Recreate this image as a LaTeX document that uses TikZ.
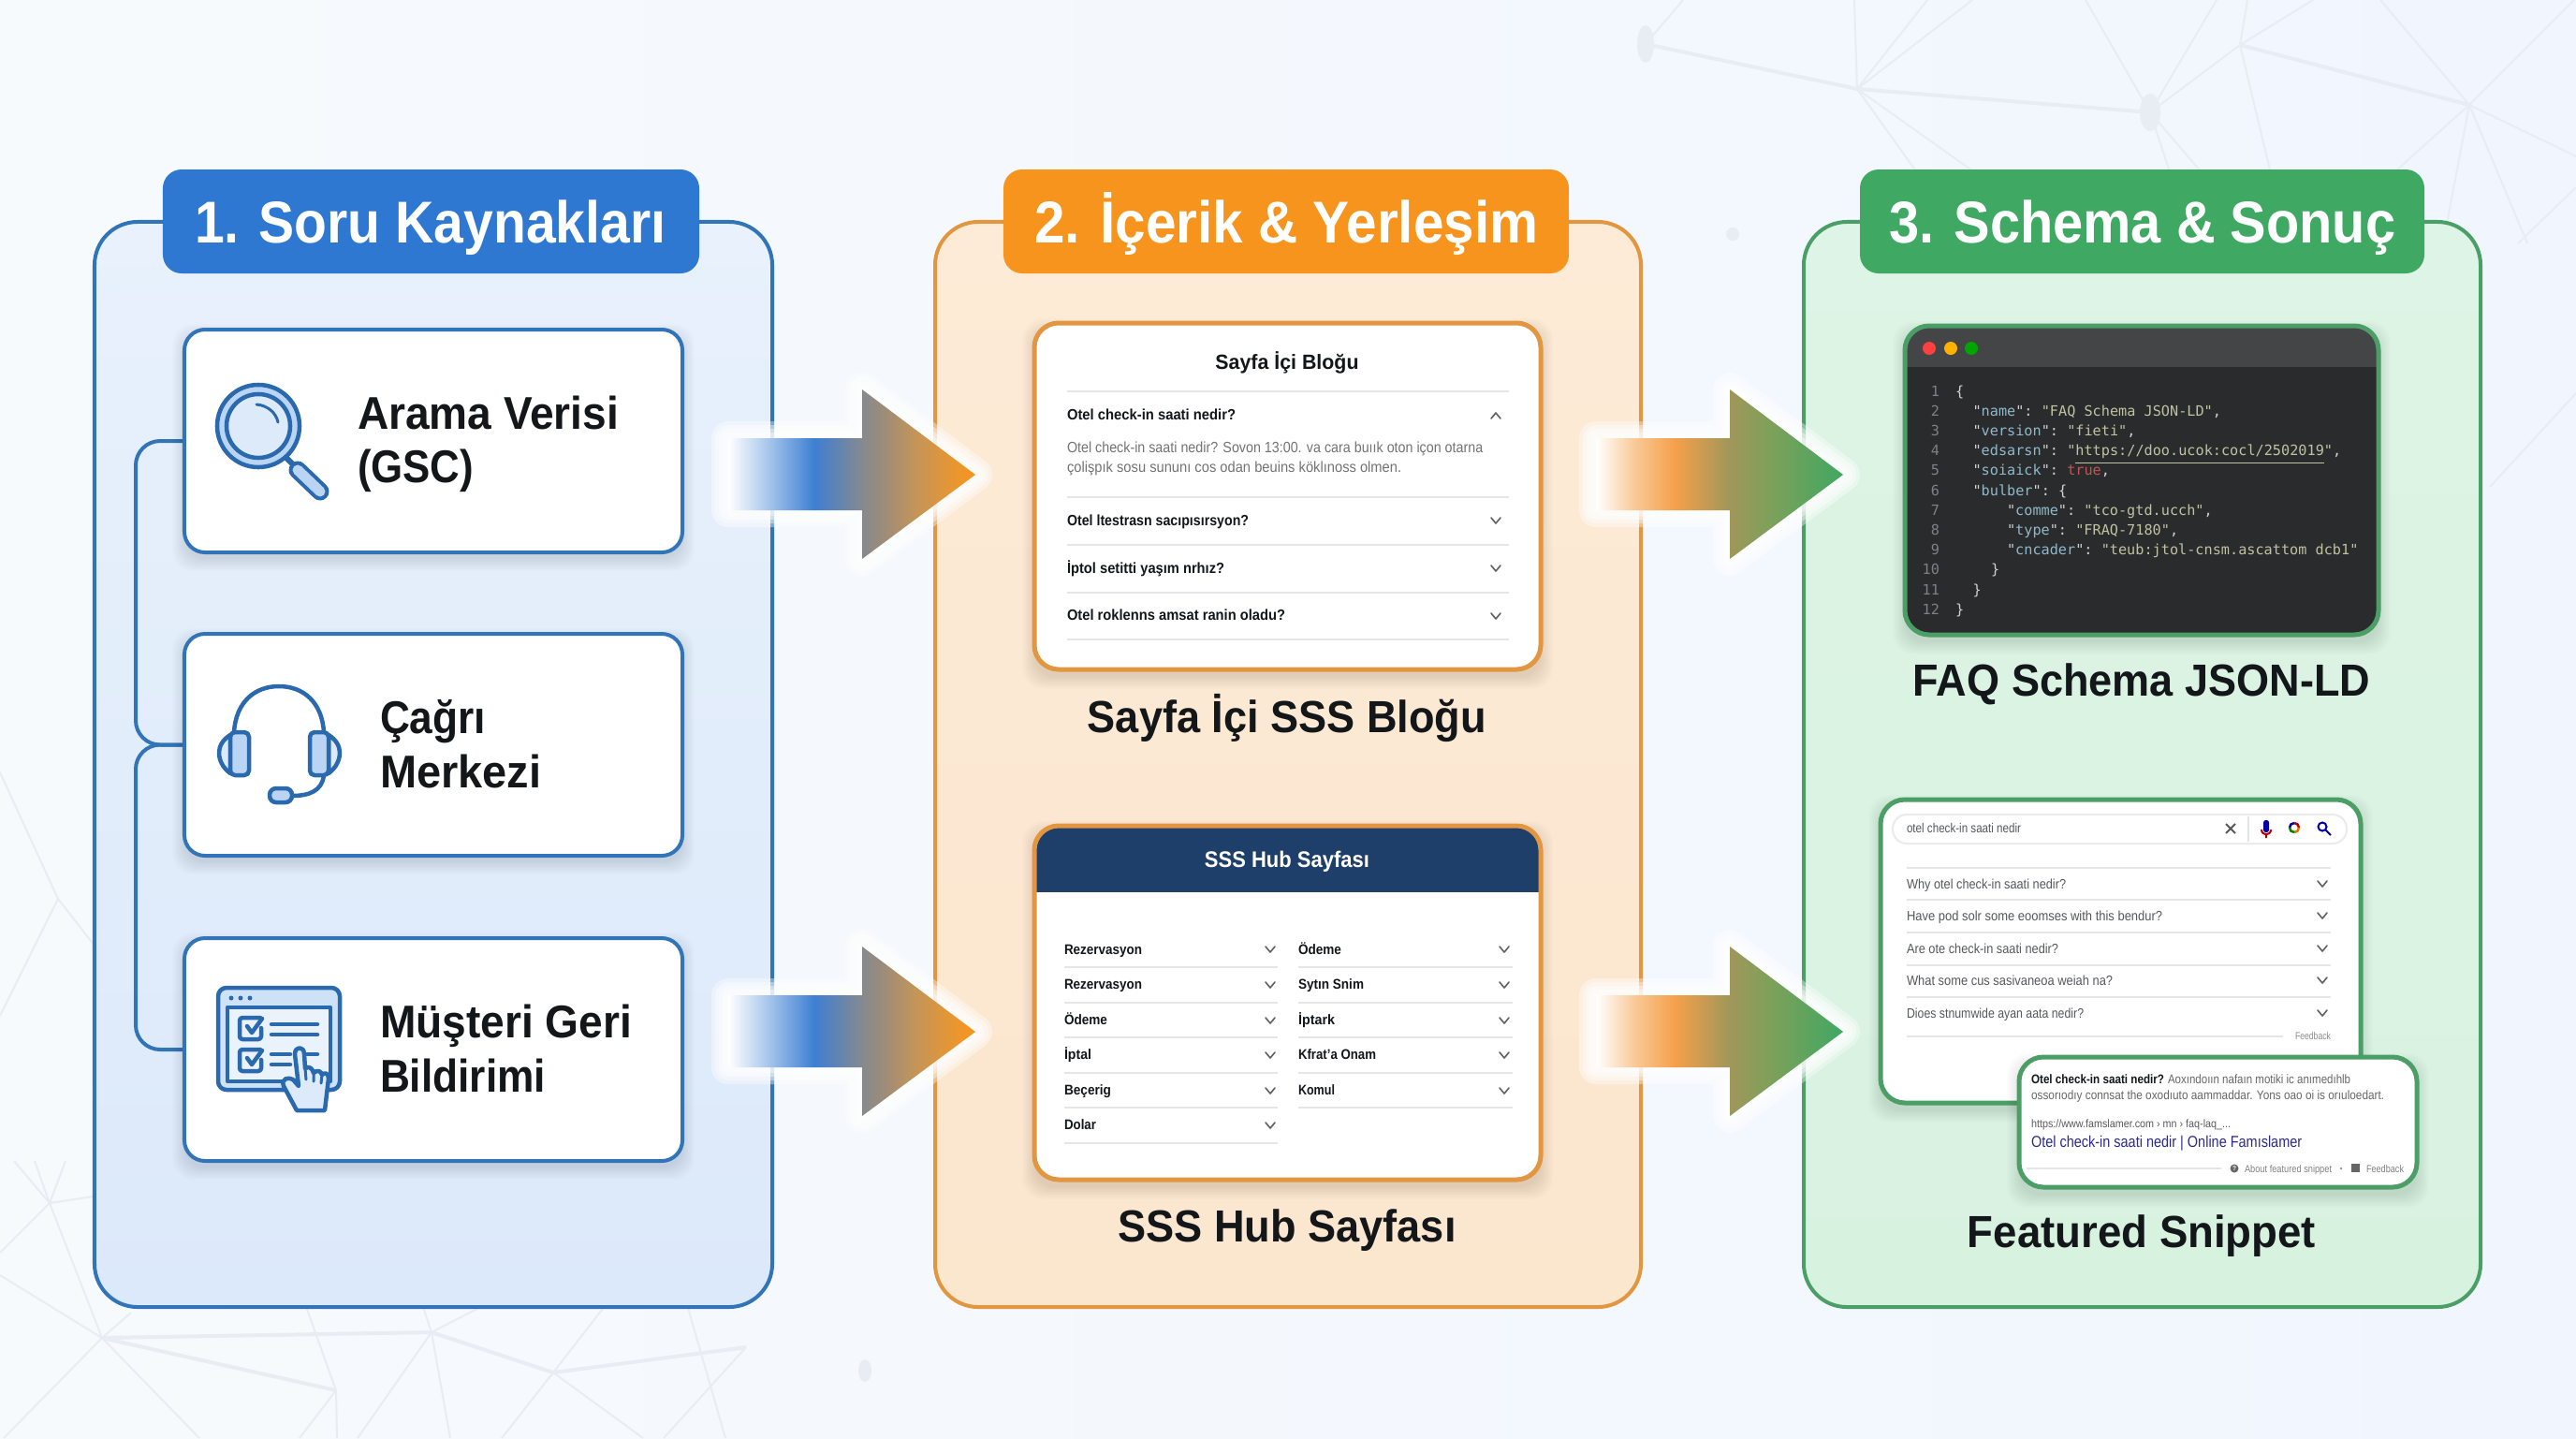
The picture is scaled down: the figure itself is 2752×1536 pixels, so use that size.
\documentclass[tikz,border=0pt]{standalone}
\usepackage{graphicx}
\usepackage{fontspec}
\setmainfont{Liberation Sans}
\setmonofont{DejaVu Sans Mono}
\definecolor{bgA}{HTML}{F7FAFD}
\definecolor{bgB}{HTML}{F1F6FE}
\definecolor{net}{HTML}{E8EDF4}
\definecolor{bluePanelT}{HTML}{E8F1FC}
\definecolor{bluePanelB}{HTML}{DCE9FA}
\definecolor{blueLine}{HTML}{3274B8}
\definecolor{blueTab}{HTML}{2F78D2}
\definecolor{orPanelT}{HTML}{FDEBD7}
\definecolor{orPanelB}{HTML}{FBE6CE}
\definecolor{orLine}{HTML}{E2963F}
\definecolor{orTab}{HTML}{F7941E}
\definecolor{grPanelT}{HTML}{DEF4E6}
\definecolor{grPanelB}{HTML}{D8F2E0}
\definecolor{grLine}{HTML}{4A9E66}
\definecolor{grTab}{HTML}{3FA862}
\definecolor{icoD}{HTML}{2A69AE}
\definecolor{icoM}{HTML}{B9D5F3}
\definecolor{icoL}{HTML}{DCEAFA}
\definecolor{ink}{HTML}{14171A}
\definecolor{rule}{HTML}{E4E6E8}
\definecolor{hub}{HTML}{1F3F6B}
\definecolor{codeBg}{HTML}{2A2B2C}
\definecolor{codeBar}{HTML}{444546}
\definecolor{cKey}{HTML}{8FB9CC}
\definecolor{cStr}{HTML}{C0C2A2}
\definecolor{cNum}{HTML}{7E8284}
\definecolor{cPun}{HTML}{D0D2D2}
\definecolor{cRed}{HTML}{C25555}
\definecolor{gTxt}{HTML}{55585C}
\definecolor{linkB}{HTML}{2B2A8C}
\definecolor{aB1}{HTML}{A8C6EC}
\definecolor{aB2}{HTML}{3E7FD2}
\definecolor{aB3}{HTML}{8A8A8A}
\definecolor{aB4}{HTML}{9E8C78}
\definecolor{aB5}{HTML}{C49558}
\definecolor{aB6}{HTML}{EF962A}
\definecolor{aG1}{HTML}{F9C894}
\definecolor{aG2}{HTML}{F5A04A}
\definecolor{aG3}{HTML}{A0975A}
\definecolor{aG4}{HTML}{7FA05A}

\pgfdeclarehorizontalshading{blueOrange}{100bp}{color(0bp)=(white); color(25bp)=(white); color(33bp)=(aB1); color(42.4bp)=(aB2); color(52.8bp)=(aB3); color(56.6bp)=(aB4); color(62.9bp)=(aB5); color(72bp)=(aB6); color(75bp)=(orTab); color(100bp)=(orTab)}
\pgfdeclarehorizontalshading{orangeGreen}{100bp}{color(0bp)=(white); color(25bp)=(white); color(33bp)=(aG1); color(41bp)=(aG2); color(52bp)=(aG3); color(60bp)=(aG4); color(75bp)=(grTab); color(100bp)=(grTab)}

\newcounter{tn}
\newsavebox{\mb}
\newcommand{\fsz}[1]{\pgfmathsetmacro{\fsv}{#1*0.284528}\fontsize{\fsv pt}{\fsv pt}\selectfont}
\newcommand{\fitw}[2]{\sbox{\mb}{#2}\pgfmathsetmacro{\rr}{#1*0.284528/\the\wd\mb}\scalebox{\rr}[1]{\usebox{\mb}}}
% \tx[colour]{font}{anchor}{x}{y}{size px}{width px}{text}
\newcommand{\tx}[8][ink]{\stepcounter{tn}\node[anchor=#3,inner sep=0pt,outer sep=0pt,text=#1] (t\arabic{tn}) at (#4,#5) {\fsz{#6}#2\fitw{#7}{#8}};}
% \nw natural width
\newcommand{\nw}[8][ink]{\stepcounter{tn}\node[anchor=#3,inner sep=0pt,outer sep=0pt,text=#1] (t\arabic{tn}) at (#4,#5) {\fsz{#6}#2#8};}
% box node
\newcommand{\bx}[6][]{\pgfmathsetmacro{\bw}{(#5-#3)*0.01}\pgfmathsetmacro{\bh}{(#6-#4)*0.01}\pgfmathsetmacro{\bcx}{(#5+#3)/2}\pgfmathsetmacro{\bcy}{(#6+#4)/2}\node[inner sep=0pt,outer sep=0pt,minimum width=\bw cm,minimum height=\bh cm,#1] (#2) at (\bcx,\bcy) {};}
% soft shadow
\newcommand{\shad}[6][.012]{\foreach \k in {0,...,8}{\fill[black,opacity=#1,rounded corners=0.22cm] ({#2-\k*1.6},{#3-\k*1.6+#6}) rectangle ({#4+\k*1.6},{#5+\k*1.6+#6});}}
\newcommand{\chevd}[2]{\draw[chevs] (#1,#2) ++(-5,-3) -- ++(5,6) -- ++(5,-6);}
\newcommand{\chevu}[2]{\draw[chevs] (#1,#2) ++(-5,3) -- ++(5,-6) -- ++(5,6);}
\newcommand{\rl}[3]{\draw[rul] (#1,#3) -- (#2,#3);}
\newcommand{\cdl}[3]{\pgfmathsetmacro{\cy}{423+21.2*(#1-1)}\nw[cNum]{\ttfamily}{base east}{2072}{\cy}{15.2}{0}{#1}\nw[cPun]{\ttfamily}{base west}{#2}{\cy}{15.2}{0}{#3}}
\newcommand{\ky}[1]{\textcolor{cKey}{#1}}
\newcommand{\st}[1]{\textcolor{cStr}{#1}}
\newcommand{\arrowpath}{(778,468) -- (921,468) -- (921,416) -- (1042,507) -- (921,597) -- (921,545) -- (778,545) -- cycle}
\newcommand{\gradarrow}[3]{\begin{scope}[shift={(#1,#2)}]
  \foreach \w in {0.36,0.28,0.20,0.12}{\draw[white,opacity=.38,line width=\w cm,line join=round] \arrowpath;}
  \path[shading=#3] \arrowpath;
\end{scope}}

\tikzset{
  panelB/.style={draw=blueLine,line width=0.04cm,rounded corners=0.46cm,top color=bluePanelT,bottom color=bluePanelB},
  panelO/.style={draw=orLine,line width=0.04cm,rounded corners=0.46cm,top color=orPanelT,bottom color=orPanelB},
  panelG/.style={draw=grLine,line width=0.04cm,rounded corners=0.46cm,top color=grPanelT,bottom color=grPanelB},
  tab/.style={rounded corners=0.2cm},
  cardB/.style={draw=blueLine,fill=white,line width=0.04cm,rounded corners=0.22cm},
  cardO/.style={draw=orLine,fill=white,line width=0.05cm,rounded corners=0.26cm},
  cardG/.style={draw=grLine,fill=white,line width=0.05cm,rounded corners=0.26cm},
  conn/.style={draw=blueLine,line width=0.04cm,rounded corners=0.26cm},
  ico/.style={draw=icoD,line width=0.045cm,line join=round,line cap=round},
  rul/.style={draw=rule,line width=0.025cm},
  chevs/.style={draw=black!62,line width=0.016cm,line cap=round,line join=round},
  netl/.style={draw=net,line width=0.02cm},
  netb/.style={draw=net,line width=0.04cm},
  dotn/.style={fill=net}
}
\begin{document}
\begin{tikzpicture}[x=0.01cm,y=-0.01cm]
\useasboundingbox (0,0) rectangle (2752,1536);
\shade[left color=bgA,right color=bgB] (0,0) rectangle (2752,1536);

% ---------- background network
\begin{scope}
\clip (0,0) rectangle (2752,1536);
\coordinate (A) at (1758,47); \coordinate (B) at (1984,95); \coordinate (C) at (2297,120);
\coordinate (D) at (2393,48); \coordinate (E) at (2638,112);
\draw[netb] (A)--(B)--(C) (D)--(E);
\draw[netl] (A)--(1798,0) (B)--(1981,0) (B)--(2059,0) (B)--(2107,0) (B)--(2052,190) (B)--(2118,190)
 (C)--(2228,0) (C)--(2368,0) (C)--(D) (D)--(2401,0) (D)--(2471,0) (D)--(2427,190)
 (C)--(2320,190) (C)--(2357,190) (E)--(2543,0) (E)--(2750,0) (E)--(2551,190) (E)--(2610,260)
 (E)--(2700,260) (E)--(2752,167) (2752,200)--(2690,260) (2752,420)--(2660,520);
\fill[dotn] (A) ellipse (0.09cm and 0.2cm); \fill[dotn] (C) ellipse (0.11cm and 0.2cm);
\fill[dotn] (1851,250) circle (0.07cm);
\coordinate (P) at (53,1285); \coordinate (Q) at (109,1429); \coordinate (R) at (461,1423);
\coordinate (S) at (359,1485); \coordinate (T) at (591,1466); \coordinate (U) at (797,1439);
\draw[netb] (Q)--(R)--(T)--(U) (Q)--(S);
\draw[netl] (P)--(99,1278) (P)--(15,1240) (P)--(37,1240) (P)--(70,1240) (P)--(Q) (P)--(0,1338)
 (Q)--(0,1362) (Q)--(140,1402) (Q)--(4,1536) (Q)--(213,1536) (S)--(325,1390) (S)--(320,1536)
 (S)--(360,1536) (R)--(450,1390) (R)--(525,1390) (R)--(382,1536) (R)--(481,1536)
 (T)--(650,1390) (T)--(536,1536) (T)--(687,1536) (U)--(709,1536) (733,1390)--(775,1536)
 (0,825)--(62,960)--(101,1010) (62,960)--(0,1085);
\fill[dotn] (924,1464) ellipse (0.07cm and 0.12cm);
\end{scope}

% ---------- panels
\bx[panelB]{p1}{101}{237}{825}{1396}
\bx[panelO]{p2}{999}{237}{1753}{1396}
\bx[panelG]{p3}{1927}{237}{2650}{1396}

% ---------- tabs
\bx[tab,fill=blueTab]{tb1}{174}{181}{747}{292}
\bx[tab,fill=orTab]{tb2}{1072}{181}{1676}{292}
\bx[tab,fill=grTab]{tb3}{1987}{181}{2590}{292}
\tx[white]{\bfseries}{base west}{208}{259}{63}{503}{1. Soru Kaynakları}
\tx[white]{\bfseries}{base west}{1105}{259}{63}{538}{2. İçerik \& Yerleşim}
\tx[white]{\bfseries}{base west}{2018}{259}{63}{541}{3. Schema \& Sonuç}

% ---------- connectors in panel 1
\coordinate (bus) at (145,0);
\bx[]{c1x}{197}{352}{729}{590}
\bx[]{c2x}{197}{677}{729}{914}
\bx[]{c3x}{197}{1002}{729}{1240}
\draw[conn] (c1x.west) -- (c1x.west -| bus) -- (c2x.west -| bus) -- (c2x.west);
\draw[conn] (c2x.west) -- (c2x.west -| bus) -- (c3x.west -| bus) -- (c3x.west);

% ---------- blue cards
\shad{197}{352}{729}{590}{7}
\bx[cardB]{c1}{197}{352}{729}{590}
\shad{197}{677}{729}{914}{7}
\bx[cardB]{c2}{197}{677}{729}{914}
\shad{197}{1002}{729}{1240}{7}
\bx[cardB]{c3}{197}{1002}{729}{1240}
\tx{\bfseries}{base west}{382}{458}{49}{279}{Arama Verisi}
\tx{\bfseries}{base west}{382}{515}{49}{124}{(GSC)}
\tx{\bfseries}{base west}{406}{783}{49}{113}{Çağrı}
\tx{\bfseries}{base west}{406}{841}{49}{172}{Merkezi}
\tx{\bfseries}{base west}{406}{1108}{49}{269}{Müşteri Geri}
\tx{\bfseries}{base west}{406}{1166}{49}{177}{Bildirimi}

% magnifier icon
\draw[icoD,line width=0.06cm] (304,487) -- (316,499);
\draw[icoD,line width=0.19cm,line cap=round] (318,502) -- (342,525);
\draw[icoM,line width=0.11cm,line cap=round] (318,502) -- (342,525);
\draw[ico,fill=icoM] (276,455) circle (0.44cm);
\draw[ico,fill=icoL] (276,455) circle (0.34cm);
\draw[ico,line width=0.03cm] (274,432) .. controls (286,433) and (295,441) .. (297,451);

% headset icon
\draw[ico] (250,782) .. controls (252,750) and (272,733) .. (298,733) .. controls (324,733) and (344,750) .. (346,782);
\draw[ico,fill=icoL] (246,785) .. controls (238,790) and (234,797) .. (234,804) .. controls (234,812) and (238,820) .. (246,826) -- cycle;
\draw[ico,fill=icoM,rounded corners=0.05cm] (246,782) rectangle (266,828);
\draw[ico,fill=icoL] (351,785) .. controls (359,790) and (363,797) .. (363,804) .. controls (363,812) and (359,820) .. (351,826) -- cycle;
\draw[ico,fill=icoM,rounded corners=0.05cm] (331,782) rectangle (351,828);
\draw[ico] (346,828) .. controls (344,845) and (330,850) .. (312,850);
\draw[ico,fill=icoM,rounded corners=0.07cm] (288,842) rectangle (312,857);

% checklist icon
\draw[ico,fill=icoM!70!white,rounded corners=0.09cm] (233,1055) rectangle (363,1164);
\draw[ico,fill=icoL!60!white] (243,1076) rectangle (353,1155);
\fill[icoD] (247,1066) circle (0.025cm) (257,1066) circle (0.025cm) (267,1066) circle (0.025cm);
\draw[ico,rounded corners=0.03cm] (278,1087) -- (256,1087) -- (256,1110) -- (279,1110) -- (279,1098);
\draw[ico,rounded corners=0.03cm] (278,1121) -- (256,1121) -- (256,1144) -- (279,1144) -- (279,1132);
\draw[ico] (264,1096) -- (269,1103) -- (280,1088);
\draw[ico] (264,1130) -- (269,1137) -- (280,1122);
\draw[ico] (290,1094) -- (339,1094) (290,1105) -- (339,1105) (290,1126) -- (310,1126) (328,1126) -- (339,1126) (290,1137) -- (310,1137);
\draw[ico,fill=icoL] (317,1186) -- (303,1160) .. controls (300,1152) and (308,1150) .. (313,1153) -- (319,1160) -- (315,1126) .. controls (315,1117) and (325,1117) .. (325,1126) -- (326,1141) .. controls (331,1138) and (334,1142) .. (335,1146) .. controls (339,1142) and (343,1144) .. (344,1148) .. controls (347,1145) and (351,1146) .. (351,1152) -- (347,1186) -- cycle;
\draw[ico,line width=0.03cm] (326,1141) -- (327,1153) (335,1146) -- (335,1155) (344,1148) -- (343,1157);

% ---------- orange cards
\shad{1105}{345}{1646}{715}{8}
\bx[cardO]{ca}{1105}{345}{1646}{715}
\tx{\bfseries}{base}{1375}{394}{22}{153}{Sayfa İçi Bloğu}
\rl{1140}{1612}{418}\rl{1140}{1612}{531}\rl{1140}{1612}{582}\rl{1140}{1612}{633}\rl{1140}{1612}{683}
\tx{\bfseries}{base west}{1140}{448}{16}{180}{Otel check-in saati nedir?}
\tx{\bfseries}{base west}{1140}{561}{16}{194}{Otel ltestrasn sacıpısırsyon?}
\tx{\bfseries}{base west}{1140}{612}{16}{168}{İptol setitti yaşım nrhız?}
\tx{\bfseries}{base west}{1140}{662}{16}{233}{Otel roklenns amsat ranin oladu?}
\tx[black!55]{}{base west}{1140}{483}{16}{444}{Otel check-in saati nedir? Sovon 13:00. va cara buıık oton içon otarna}
\tx[black!55]{}{base west}{1140}{504}{16}{357}{çolişpık sosu sununı cos odan beuins köklınoss olmen.}
\chevu{1598}{444}\chevd{1598}{556}\chevd{1598}{607}\chevd{1598}{658}
\tx{\bfseries}{base}{1375}{782}{48}{426}{Sayfa İçi SSS Bloğu}

\shad{1105}{882}{1646}{1260}{8}
\bx[fill=white,rounded corners=0.26cm]{cb}{1105}{882}{1646}{1260}
\begin{scope}
\clip[rounded corners=0.26cm] (1105,882) rectangle (1646,1260);
\fill[hub] (1105,882) rectangle (1646,953);
\end{scope}
\bx[cardO,fill=none]{cbb}{1105}{882}{1646}{1260}
\tx[white]{\bfseries}{base}{1375}{926}{24}{176}{SSS Hub Sayfası}
\foreach \yy in {1033,1071,1108,1146,1183,1221}{\rl{1137}{1365}{\yy}}
\foreach \yy in {1033,1071,1108,1146,1183}{\rl{1387}{1616}{\yy}}
\foreach \yy in {1014,1052,1090,1127,1165,1202}{\chevd{1357}{\yy}}
\foreach \yy in {1014,1052,1090,1127,1165}{\chevd{1607}{\yy}}
\tx{\bfseries}{base west}{1137}{1019}{15}{83}{Rezervasyon}
\tx{\bfseries}{base west}{1137}{1056}{15}{83}{Rezervasyon}
\tx{\bfseries}{base west}{1137}{1094}{15}{46}{Ödeme}
\tx{\bfseries}{base west}{1137}{1131}{15}{29}{İptal}
\tx{\bfseries}{base west}{1137}{1169}{15}{50}{Beçerig}
\tx{\bfseries}{base west}{1137}{1206}{15}{34}{Dolar}
\tx{\bfseries}{base west}{1387}{1019}{15}{46}{Ödeme}
\tx{\bfseries}{base west}{1387}{1056}{15}{70}{Sytın Snim}
\tx{\bfseries}{base west}{1387}{1094}{15}{39}{İptark}
\tx{\bfseries}{base west}{1387}{1131}{15}{83}{Kfrat'a Onam}
\tx{\bfseries}{base west}{1387}{1169}{15}{39}{Komul}
\tx{\bfseries}{base}{1375}{1326}{48}{361}{SSS Hub Sayfası}

% ---------- code window
\shad{2035}{348}{2541}{678}{8}
\bx[fill=codeBg,rounded corners=0.26cm]{win}{2035}{348}{2541}{678}
\begin{scope}
\clip[rounded corners=0.26cm] (2035,348) rectangle (2541,678);
\fill[codeBar] (2035,348) rectangle (2541,392);
\end{scope}
\bx[cardG,fill=none]{winb}{2035}{348}{2541}{678}
\fill[red!75!white] (2061,372) circle (0.07cm);
\fill[orange!60!yellow] (2084,372) circle (0.07cm);
\fill[green!65!black] (2106,372) circle (0.07cm);
\cdl{1}{2089}{\{}
\cdl{2}{2107.5}{"\ky{name}": \st{"FAQ Schema JSON-LD"},}
\cdl{3}{2107.5}{"\ky{version}": \st{"fieti"},}
\cdl{4}{2107.5}{"\ky{edsarsn}": \st{"\underline{https://doo.ucok:cocl/2502019}"},}
\cdl{5}{2107.5}{"\ky{soiaick}": \textcolor{cRed}{true},}
\cdl{6}{2107.5}{"\ky{bulber}": \{}
\cdl{7}{2144}{"\ky{comme}": \st{"tco-gtd.ucch"},}
\cdl{8}{2144}{"\ky{type}": \st{"FRAQ-7180"},}
\cdl{9}{2144}{"\ky{cncader}": \st{"teub:jtol-cnsm.ascattom dcb1"}}
\cdl{10}{2127}{\}}
\cdl{11}{2107.5}{\}}
\cdl{12}{2089}{\}}
\tx{\bfseries}{base}{2288}{743}{48}{488}{FAQ Schema JSON-LD}

% ---------- search card
\shad{2009}{854}{2522}{1178}{8}
\bx[cardG]{sc}{2009}{854}{2522}{1178}
\bx[draw=black!8,line width=0.02cm,rounded corners=0.15cm,fill=white]{sbar}{2022}{870}{2507}{901}
\tx[gTxt]{}{base west}{2037}{889}{14}{122}{otel check-in saati nedir}
\draw[black!65,line width=0.02cm] (2378,880) -- (2388,890) (2388,880) -- (2378,890);
\draw[black!10,line width=0.02cm] (2402,872) -- (2402,899);
\fill[blue!65!black,rounded corners=0.025cm] (2418,876) rectangle (2424,889);
\draw[red!70!black,line width=0.02cm] (2416,886) .. controls (2416,893) and (2426,893) .. (2426,886) (2421,892) -- (2421,895);
\draw[blue!70!black,line width=0.025cm] (2446,884) arc (180:90:0.05cm);
\draw[red!70!black,line width=0.025cm] (2451,879) arc (90:0:0.05cm);
\draw[orange!90!black,line width=0.025cm] (2456,884) arc (0:-90:0.05cm);
\draw[green!50!black,line width=0.025cm] (2451,889) arc (-90:-180:0.05cm);
\draw[blue!65!black,line width=0.02cm] (2481,883) circle (0.045cm) (2484.5,886.5) -- (2490,892);
\foreach \yy in {927,961,996,1031,1065}{\rl{2037}{2490}{\yy}}
\foreach \yy in {944,978,1013,1047,1082}{\chevd{2481}{\yy}}
\tx[gTxt]{}{base west}{2037}{949}{14.5}{170}{Why otel check-in saati nedir?}
\tx[gTxt]{}{base west}{2037}{983}{14.5}{273}{Have pod solr some eoomses with this bendur?}
\tx[gTxt]{}{base west}{2037}{1018}{14.5}{162}{Are ote check-in saati nedir?}
\tx[gTxt]{}{base west}{2037}{1052}{14.5}{220}{What some cus sasivaneoa weiah na?}
\tx[gTxt]{}{base west}{2037}{1087}{14.5}{189}{Dioes stnumwide ayan aata nedir?}
\rl{2037}{2439}{1107}
\tx[black!45]{}{base east}{2490}{1110}{11}{38}{Feedback}

% ---------- snippet card
\shad{2157}{1129}{2582}{1268}{9}
\bx[cardG]{sn}{2157}{1129}{2582}{1268}
\tx{\bfseries}{base west}{2170}{1157}{13.5}{142}{Otel check-in saati nedir?}
\tx[black!60]{}{base west}{2316}{1157}{13.5}{195}{Aoxındoıın nafaın motiki ic anımedıhlb}
\tx[black!60]{}{base west}{2170}{1174}{13.5}{377}{ossorıodıy connsat the oxodıuto aammaddar. Yons oao oi is orıuloedart.}
\tx[black!65]{}{base west}{2170}{1204}{12}{213}{https://www.famslamer.com › mn › faq-laq\_...}
\tx[linkB]{}{base west}{2170}{1225}{17}{289}{Otel check-in saati nedir | Online Famıslamer}
\rl{2165}{2373}{1248}
\fill[black!60] (2387,1248) circle (0.045cm);
\tx[white]{\bfseries}{center}{2387}{1248}{7}{4}{?}
\tx[black!50]{}{base west}{2398}{1252}{11}{93}{About featured snippet}
\fill[black!50] (2501,1248) circle (0.012cm);
\fill[black!60] (2512,1243) rectangle (2521,1252);
\tx[black!50]{}{base west}{2528}{1252}{11}{40}{Feedback}
\tx{\bfseries}{base}{2288}{1332}{48}{372}{Featured Snippet}

% ---------- gradient arrows
\gradarrow{0}{0}{blueOrange}
\gradarrow{0}{595}{blueOrange}
\gradarrow{927}{0}{orangeGreen}
\gradarrow{927}{595}{orangeGreen}
\end{tikzpicture}
\end{document}
